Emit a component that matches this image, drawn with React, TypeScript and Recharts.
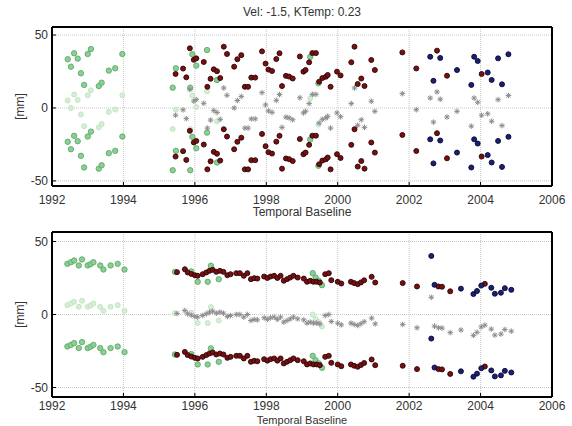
import React from 'react'
import { ScatterChart, Scatter, XAxis, YAxis, CartesianGrid } from 'recharts'

// phase ambiguity (half wavelength, mm): each epoch shows up at v, v - A and v - 2A
const AMBIGUITY = 28.3

const YEAR_TICKS = [1992, 1994, 1996, 1998, 2000, 2002, 2004, 2006]
const MM_TICKS = [-50, 0, 50]

// top panel: upper-band value of each epoch, in mm
const topGreenYears = [1992.44, 1992.53, 1992.62, 1992.72, 1992.81, 1992.9, 1993.0, 1993.09, 1993.31, 1993.39, 1993.59, 1993.77, 1993.97, 1995.38, 1995.47, 1995.87, 1995.93, 1996.04, 1996.34, 1996.62, 1999.23, 1999.46]
const topGreenMm = [33.4, 28.3, 37.5, 33.8, 23.8, 15.8, 37.0, 40.4, 15.0, 17.3, 25.6, 27.2, 37.0, 13.9, 27.2, 13.9, 36.8, 29.0, 39.7, 19.2, 35.0, 16.9]

const topRedYears = [1995.46, 1995.67, 1995.76, 1995.86, 1995.97, 1996.04, 1996.25, 1996.35, 1996.44, 1996.53, 1996.62, 1996.71, 1996.81, 1996.9, 1997.1, 1997.19, 1997.3, 1997.4, 1997.49, 1997.58, 1997.69, 1997.88, 1997.98, 1998.06, 1998.16, 1998.28, 1998.37, 1998.44, 1998.55, 1998.64, 1998.74, 1998.94, 1999.04, 1999.1, 1999.2, 1999.29, 1999.39, 1999.48, 1999.57, 1999.67, 1999.72, 1999.8, 1999.98, 2000.08, 2000.38, 2000.47, 2000.56, 2000.66, 2000.75, 2000.94, 2001.04, 2001.81, 2002.2, 2002.78, 2003.06, 2004.03]
const topRedMm = [23.3, 27.0, 21.0, 40.9, 33.0, 34.0, 31.5, 14.5, 20.0, 26.5, 25.2, 20.5, 42.0, 37.0, 28.3, 33.4, 36.2, 14.5, 14.5, 20.8, 20.8, 38.8, 30.4, 26.3, 25.3, 33.5, 37.5, 15.0, 22.0, 21.5, 20.2, 35.3, 24.9, 26.0, 31.3, 37.6, 37.6, 18.0, 20.5, 21.4, 22.6, 14.5, 24.9, 22.3, 31.3, 42.0, 16.4, 20.2, 15.0, 32.9, 26.0, 38.1, 27.1, 39.3, 22.1, 23.3]

const topBlueYears = [2002.59, 2002.68, 2002.87, 2003.34, 2003.74, 2003.82, 2003.92, 2004.2, 2004.31, 2004.49, 2004.6, 2004.78]
const topBlueMm = [35.1, 18.6, 34.3, 26.0, 15.8, 35.1, 32.2, 24.3, 19.2, 34.0, 16.2, 36.8]

// bottom panel
const botGreenYears = [1992.43, 1992.53, 1992.62, 1992.75, 1992.84, 1993.0, 1993.08, 1993.16, 1993.35, 1993.44, 1993.64, 1993.84, 1994.03, 1995.44, 1995.9, 1996.08, 1996.36, 1996.45, 1996.67, 1999.3, 1999.38, 1999.47, 1999.56]
const botGreenMm = [34.7, 35.8, 37.0, 33.6, 37.7, 33.6, 34.5, 35.8, 33.6, 30.8, 33.6, 34.7, 30.8, 29.2, 29.5, 22.4, 22.4, 33.4, 24.2, 28.3, 25.3, 23.1, 20.1]

const botRedYears = [1995.5, 1995.72, 1995.8, 1995.9, 1996.0, 1996.08, 1996.22, 1996.32, 1996.41, 1996.5, 1996.6, 1996.7, 1996.8, 1996.91, 1997.0, 1997.16, 1997.26, 1997.37, 1997.47, 1997.57, 1997.66, 1997.75, 1997.94, 1998.03, 1998.12, 1998.22, 1998.31, 1998.4, 1998.49, 1998.58, 1998.67, 1998.76, 1998.88, 1999.05, 1999.14, 1999.23, 1999.32, 1999.41, 1999.5, 1999.65, 1999.75, 1999.82, 2000.0, 2000.1, 2000.37, 2000.46, 2000.56, 2000.65, 2000.74, 2000.95, 2001.05, 2001.82, 2002.22, 2002.82, 2002.92, 2003.15, 2004.12]
const botRedMm = [29.0, 31.0, 28.8, 27.8, 26.9, 26.5, 27.6, 28.8, 29.9, 30.6, 29.2, 29.9, 29.2, 26.9, 27.6, 28.3, 28.3, 26.5, 28.3, 24.2, 24.9, 24.6, 26.0, 25.0, 26.0, 26.5, 25.0, 26.5, 23.1, 24.2, 25.3, 26.5, 25.3, 24.6, 22.4, 23.1, 22.4, 22.4, 21.9, 27.6, 28.3, 23.5, 22.4, 21.2, 22.4, 21.5, 20.8, 22.0, 23.4, 25.8, 21.9, 21.5, 19.2, 19.2, 19.0, 15.9, 21.0]

const botBlueYears = [2002.62, 2002.71, 2003.45, 2003.8, 2003.9, 2004.02, 2004.3, 2004.4, 2004.57, 2004.68, 2004.86]
const botBlueMm = [40.1, 20.3, 17.7, 14.0, 16.1, 19.8, 18.3, 14.2, 14.9, 18.0, 16.9]

type Pt = { x: number; y: number }

const shifted = (years: number[], mm: number[], k: number): Pt[] =>
  years.map((x, i) => ({ x, y: mm[i] - k * AMBIGUITY }))

const FONT = 'Liberation Sans, Arial, sans-serif'
const TEXT = '#333'

const dot = (fill: string, stroke: string, r: number) => (p: any) =>
  <circle cx={p.cx} cy={p.cy} r={r} fill={fill} stroke={stroke} strokeWidth={0.9} />

const GreenDot = dot('#8bcf95', '#5fa86b', 2.7)
const PaleDot = dot('#d4efd4', '#bfe3bf', 2.5)
const RedDot = dot('#7a0f12', '#2b0505', 2.5)
const BlueDot = dot('#1b1f7a', '#07072e', 2.5)

const Asterisk = (p: any) => {
  const s = 2.8
  const d = 2
  return (
    <g stroke="#8c8c8c" strokeWidth={1}>
      <line x1={p.cx - s} y1={p.cy} x2={p.cx + s} y2={p.cy} />
      <line x1={p.cx} y1={p.cy - s} x2={p.cx} y2={p.cy + s} />
      <line x1={p.cx - d} y1={p.cy - d} x2={p.cx + d} y2={p.cy + d} />
      <line x1={p.cx - d} y1={p.cy + d} x2={p.cx + d} y2={p.cy - d} />
    </g>
  )
}

const YLabel = (props: any) => {
  const vb = props.viewBox || { y: 0, height: 0 }
  const cx = 20
  const cy = vb.y + vb.height / 2
  return (
    <text x={cx} y={cy} transform={`rotate(-90 ${cx} ${cy})`} textAnchor="middle" dominantBaseline="central"
      fontSize={12} fill={TEXT} fontFamily={FONT}>[mm]</text>
  )
}

interface PanelProps {
  height: number
  top: number
  xAxisHeight: number
  tickMargin: number
  labelOffset: number
  labelSize: number
  domain: [number, number]
  green: [number[], number[]]
  red: [number[], number[]]
  blue: [number[], number[]]
}

const Panel = ({ height, top, xAxisHeight, tickMargin, labelOffset, labelSize, domain, green, red, blue }: PanelProps) => {
  const greenOuter = [...shifted(green[0], green[1], 0), ...shifted(green[0], green[1], 2)]
  const greenMid = shifted(green[0], green[1], 1)
  const grayMid = [...shifted(red[0], red[1], 1), ...shifted(blue[0], blue[1], 1)]
  const redOuter = [...shifted(red[0], red[1], 0), ...shifted(red[0], red[1], 2)]
  const blueOuter = [...shifted(blue[0], blue[1], 0), ...shifted(blue[0], blue[1], 2)]
  const border = { stroke: '#000', strokeWidth: 2 }
  const tickStyle = { fontSize: 12, fill: TEXT, fontFamily: FONT }

  return (
    <ScatterChart width={572} height={height} margin={{ top, right: 19, bottom: 0, left: 0 }}>
      <CartesianGrid stroke="#c8c8c8" strokeDasharray="1 1" />
      <XAxis dataKey="x" type="number" domain={[1992, 2006]} ticks={YEAR_TICKS} allowDataOverflow
        height={xAxisHeight} tickSize={-4} tickMargin={tickMargin} tick={tickStyle}
        axisLine={border} tickLine={{ stroke: '#000' }}
        label={{ value: 'Temporal Baseline', position: 'insideBottom', offset: labelOffset, fontSize: labelSize, fill: TEXT, fontFamily: FONT }} />
      <XAxis xAxisId="top" orientation="top" type="number" domain={[1992, 2006]} ticks={YEAR_TICKS}
        height={1} tickSize={-4} tickFormatter={() => ''} axisLine={border} tickLine={{ stroke: '#000' }} />
      <YAxis dataKey="y" type="number" domain={domain} ticks={MM_TICKS} allowDataOverflow width={52}
        tickSize={-4} tickMargin={8} tick={tickStyle} axisLine={border} tickLine={{ stroke: '#000' }}
        label={<YLabel />} />
      <YAxis yAxisId="right" orientation="right" type="number" domain={domain} ticks={MM_TICKS}
        width={1} tickSize={-4} tickFormatter={() => ''} axisLine={border} tickLine={{ stroke: '#000' }} />
      <Scatter data={greenOuter} shape={GreenDot} isAnimationActive={false} />
      <Scatter data={greenMid} shape={PaleDot} isAnimationActive={false} />
      <Scatter data={grayMid} shape={Asterisk} isAnimationActive={false} />
      <Scatter data={redOuter} shape={RedDot} isAnimationActive={false} />
      <Scatter data={blueOuter} shape={BlueDot} isAnimationActive={false} />
    </ScatterChart>
  )
}

export default function App() {
  return (
    <div style={{ position: 'absolute', left: 0, top: 0, width: 572, height: 426, overflow: 'hidden', background: '#fff' }}>
      <div style={{ position: 'absolute', left: 52, top: 5, width: 500, textAlign: 'center', fontSize: 12, lineHeight: '14px', color: TEXT, fontFamily: FONT }}>
        Vel: -1.5, KTemp: 0.23
      </div>
      <div style={{ position: 'absolute', left: 0, top: 0 }}>
        <Panel height={218} top={26} xAxisHeight={32} tickMargin={13} labelOffset={2} labelSize={12} domain={[-53.5, 55.5]}
          green={[topGreenYears, topGreenMm]} red={[topRedYears, topRedMm]} blue={[topBlueYears, topBlueMm]} />
      </div>
      <div style={{ position: 'absolute', left: 0, top: 218 }}>
        <Panel height={208} top={13} xAxisHeight={29} tickMargin={8} labelOffset={2.5} labelSize={11} domain={[-56.5, 56.5]}
          green={[botGreenYears, botGreenMm]} red={[botRedYears, botRedMm]} blue={[botBlueYears, botBlueMm]} />
      </div>
    </div>
  )
}
